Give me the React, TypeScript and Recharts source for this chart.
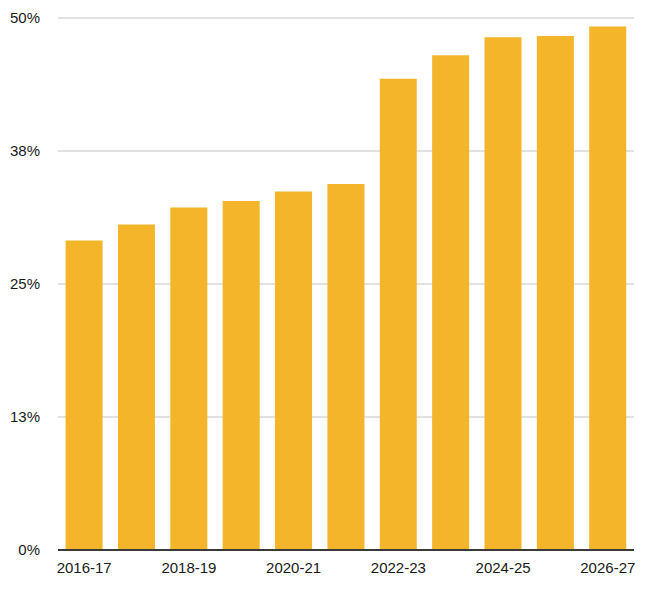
import React from 'react';
import { BarChart, Bar, XAxis, YAxis, CartesianGrid } from 'recharts';

const seasons = [
  '2016-17', '2017-18', '2018-19', '2019-20', '2020-21', '2021-22',
  '2022-23', '2023-24', '2024-25', '2025-26', '2026-27',
];
const shares = [29.1, 30.6, 32.2, 32.8, 33.7, 34.4, 44.3, 46.5, 48.2, 48.3, 49.2];
const yTicks = [0, 12.5, 25, 37.5, 50];

const data = seasons.map((season, i) => ({ season, share: shares[i] }));

const font = { fontFamily: '"Liberation Sans", Arial, Helvetica, sans-serif', fontSize: 15, fill: '#1a1a1a' };

export default function App() {
  return (
    <div style={{ position: 'absolute', left: 0, top: 0 }}>
      <BarChart
        width={646}
        height={591}
        data={data}
        margin={{ top: 18, right: 12, bottom: 0, left: 0 }}
        barCategoryGap="14.5%"
      >
        <CartesianGrid vertical={false} stroke="#c4c4c4" />
        <XAxis
          dataKey="season"
          height={41}
          interval={1}
          tickLine={false}
          tickSize={0}
          tickMargin={12}
          axisLine={{ stroke: '#3a3a3a', strokeWidth: 2 }}
          tick={font}
        />
        <YAxis
          width={58}
          domain={[0, 50]}
          ticks={yTicks}
          axisLine={false}
          tickLine={false}
          tickSize={0}
          tickMargin={18}
          tick={font}
          tickFormatter={(v: number) => `${Math.round(v)}%`}
        />
        <Bar dataKey="share" fill="#F4B52A" isAnimationActive={false} />
      </BarChart>
    </div>
  );
}
